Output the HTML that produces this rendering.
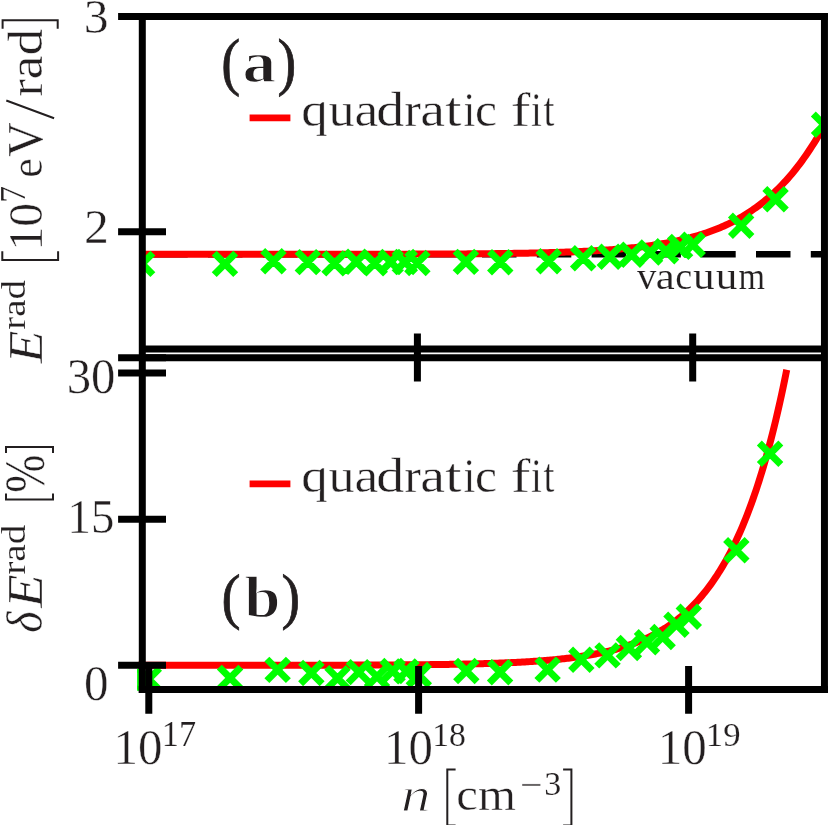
<!DOCTYPE html>
<html><head><meta charset="utf-8"><title>fig</title>
<style>
html,body{margin:0;padding:0;background:#fff;}
svg{display:block;}
text{font-family:"Liberation Serif",serif;fill:#231f20;}
.b{font-weight:bold;}
.i{font-style:italic;}
</style></head><body>
<svg width="829" height="825" viewBox="0 0 829 825">
<rect width="829" height="825" fill="#fff"/>
<defs>
<clipPath id="ca"><rect x="142.3" y="16.6" width="682.1" height="332.4"/></clipPath>
<clipPath id="cb"><rect x="137" y="357.7" width="688" height="332.3"/></clipPath>
</defs>
<!-- panel a data -->
<g clip-path="url(#ca)">
<line x1="100" y1="254.3" x2="830" y2="254.3" stroke="#000" stroke-width="6.6" stroke-dasharray="34.5 20.3" stroke-dashoffset="1.60"/>
<polyline points="138.00,254.30 140.00,254.30 142.00,254.30 144.00,254.30 146.00,254.30 148.00,254.30 150.00,254.30 152.00,254.30 154.00,254.30 156.00,254.30 158.00,254.30 160.00,254.30 162.00,254.30 164.00,254.30 166.00,254.30 168.00,254.30 170.00,254.30 172.00,254.30 174.00,254.30 176.00,254.30 178.00,254.30 180.00,254.30 182.00,254.30 184.00,254.30 186.00,254.30 188.00,254.30 190.00,254.30 192.00,254.30 194.00,254.30 196.00,254.30 198.00,254.30 200.00,254.30 202.00,254.29 204.00,254.29 206.00,254.29 208.00,254.29 210.00,254.29 212.00,254.29 214.00,254.29 216.00,254.29 218.00,254.29 220.00,254.29 222.00,254.29 224.00,254.29 226.00,254.29 228.00,254.29 230.00,254.29 232.00,254.29 234.00,254.29 236.00,254.29 238.00,254.29 240.00,254.29 242.00,254.29 244.00,254.29 246.00,254.29 248.00,254.29 250.00,254.29 252.00,254.29 254.00,254.29 256.00,254.29 258.00,254.29 260.00,254.29 262.00,254.29 264.00,254.29 266.00,254.29 268.00,254.28 270.00,254.28 272.00,254.28 274.00,254.28 276.00,254.28 278.00,254.28 280.00,254.28 282.00,254.28 284.00,254.28 286.00,254.28 288.00,254.28 290.00,254.28 292.00,254.28 294.00,254.28 296.00,254.28 298.00,254.27 300.00,254.27 302.00,254.27 304.00,254.27 306.00,254.27 308.00,254.27 310.00,254.27 312.00,254.27 314.00,254.27 316.00,254.27 318.00,254.26 320.00,254.26 322.00,254.26 324.00,254.26 326.00,254.26 328.00,254.26 330.00,254.26 332.00,254.26 334.00,254.25 336.00,254.25 338.00,254.25 340.00,254.25 342.00,254.25 344.00,254.25 346.00,254.24 348.00,254.24 350.00,254.24 352.00,254.24 354.00,254.24 356.00,254.23 358.00,254.23 360.00,254.23 362.00,254.23 364.00,254.22 366.00,254.22 368.00,254.22 370.00,254.22 372.00,254.21 374.00,254.21 376.00,254.21 378.00,254.20 380.00,254.20 382.00,254.20 384.00,254.19 386.00,254.19 388.00,254.19 390.00,254.18 392.00,254.18 394.00,254.17 396.00,254.17 398.00,254.17 400.00,254.16 402.00,254.16 404.00,254.15 406.00,254.15 408.00,254.14 410.00,254.14 412.00,254.13 414.00,254.12 416.00,254.12 418.00,254.11 420.00,254.11 422.00,254.10 424.00,254.09 426.00,254.09 428.00,254.08 430.00,254.07 432.00,254.06 434.00,254.05 436.00,254.05 438.00,254.04 440.00,254.03 442.00,254.02 444.00,254.01 446.00,254.00 448.00,253.99 450.00,253.98 452.00,253.97 454.00,253.96 456.00,253.95 458.00,253.93 460.00,253.92 462.00,253.91 464.00,253.90 466.00,253.88 468.00,253.87 470.00,253.85 472.00,253.84 474.00,253.82 476.00,253.81 478.00,253.79 480.00,253.77 482.00,253.76 484.00,253.74 486.00,253.72 488.00,253.70 490.00,253.68 492.00,253.66 494.00,253.63 496.00,253.61 498.00,253.59 500.00,253.57 502.00,253.54 504.00,253.51 506.00,253.49 508.00,253.46 510.00,253.43 512.00,253.40 514.00,253.37 516.00,253.34 518.00,253.31 520.00,253.28 522.00,253.24 524.00,253.21 526.00,253.17 528.00,253.13 530.00,253.09 532.00,253.05 534.00,253.01 536.00,252.97 538.00,252.92 540.00,252.87 542.00,252.83 544.00,252.78 546.00,252.73 548.00,252.67 550.00,252.62 552.00,252.56 554.00,252.50 556.00,252.44 558.00,252.38 560.00,252.32 562.00,252.25 564.00,252.18 566.00,252.11 568.00,252.04 570.00,251.96 572.00,251.88 574.00,251.80 576.00,251.72 578.00,251.63 580.00,251.54 582.00,251.45 584.00,251.35 586.00,251.26 588.00,251.15 590.00,251.05 592.00,250.94 594.00,250.83 596.00,250.71 598.00,250.59 600.00,250.47 602.00,250.34 604.00,250.21 606.00,250.07 608.00,249.93 610.00,249.79 612.00,249.64 614.00,249.48 616.00,249.32 618.00,249.16 620.00,248.98 622.00,248.81 624.00,248.63 626.00,248.44 628.00,248.24 630.00,248.04 632.00,247.83 634.00,247.62 636.00,247.40 638.00,247.17 640.00,246.93 642.00,246.69 644.00,246.44 646.00,246.18 648.00,245.91 650.00,245.63 652.00,245.35 654.00,245.05 656.00,244.75 658.00,244.43 660.00,244.11 662.00,243.77 664.00,243.43 666.00,243.07 668.00,242.70 670.00,242.32 672.00,241.93 674.00,241.52 676.00,241.10 678.00,240.67 680.00,240.23 682.00,239.77 684.00,239.29 686.00,238.80 688.00,238.30 690.00,237.78 692.00,237.24 694.00,236.68 696.00,236.11 698.00,235.52 700.00,234.91 702.00,234.28 704.00,233.63 706.00,232.97 708.00,232.28 710.00,231.56 712.00,230.83 714.00,230.08 716.00,229.30 718.00,228.49 720.00,227.66 722.00,226.81 724.00,225.93 726.00,225.02 728.00,224.08 730.00,223.12 732.00,222.12 734.00,221.10 736.00,220.04 738.00,218.96 740.00,217.83 742.00,216.68 744.00,215.49 746.00,214.26 748.00,213.00 750.00,211.70 752.00,210.36 754.00,208.98 756.00,207.56 758.00,206.10 760.00,204.59 762.00,203.04 764.00,201.45 766.00,199.80 768.00,198.11 770.00,196.38 772.00,194.59 774.00,192.75 776.00,190.85 778.00,188.90 780.00,186.90 782.00,184.84 784.00,182.72 786.00,180.55 788.00,178.31 790.00,176.01 792.00,173.64 794.00,171.21 796.00,168.72 798.00,166.15 800.00,163.52 802.00,160.82 804.00,158.04 806.00,155.19 808.00,152.27 810.00,149.27 812.00,146.19 814.00,143.03 816.00,139.79 818.00,136.47 820.00,133.07 822.00,129.58 824.00,126.01 824.10,125.92" fill="none" stroke="#ff0000" stroke-width="7.0" stroke-linejoin="round"/>
<path d="M131.35 253.15L152.85 274.65M131.35 274.65L152.85 253.15M214.22 253.15L235.72 274.65M214.22 274.65L235.72 253.15M262.70 250.45L284.20 271.95M262.70 271.95L284.20 250.45M297.10 251.35L318.60 272.85M297.10 272.85L318.60 251.35M323.78 252.65L345.28 274.15M323.78 274.15L345.28 252.65M345.58 251.05L367.08 272.55M345.58 272.55L367.08 251.05M364.01 252.65L385.51 274.15M364.01 274.15L385.51 252.65M379.97 251.25L401.47 272.75M379.97 272.75L401.47 251.25M394.05 251.25L415.55 272.75M394.05 272.75L415.55 251.25M406.65 252.25L428.15 273.75M406.65 273.75L428.15 252.25M455.13 251.15L476.63 272.65M455.13 272.65L476.63 251.15M489.52 251.45L511.02 272.95M489.52 272.95L511.02 251.45M538.00 250.55L559.50 272.05M538.00 272.05L559.50 250.55M572.40 247.45L593.90 268.95M572.40 268.95L593.90 247.45M599.08 246.05L620.58 267.55M599.08 267.55L620.58 246.05M620.88 243.95L642.38 265.45M620.88 265.45L642.38 243.95M639.31 241.75L660.81 263.25M639.31 263.25L660.81 241.75M655.27 240.45L676.77 261.95M655.27 261.95L676.77 240.45M669.35 236.15L690.85 257.65M669.35 257.65L690.85 236.15M681.95 234.05L703.45 255.55M681.95 255.55L703.45 234.05M730.43 215.05L751.93 236.55M730.43 236.55L751.93 215.05M764.82 188.45L786.32 209.95M764.82 209.95L786.32 188.45M813.30 113.95L834.80 135.45M813.30 135.45L834.80 113.95" stroke="#00ff00" stroke-width="7" fill="none"/>
</g>
<!-- panel b data -->
<g clip-path="url(#cb)">
<polyline points="138.00,665.30 139.50,665.30 141.00,665.30 142.50,665.30 144.00,665.29 145.50,665.29 147.00,665.29 148.50,665.29 150.00,665.29 151.50,665.29 153.00,665.29 154.50,665.29 156.00,665.29 157.50,665.29 159.00,665.29 160.50,665.29 162.00,665.29 163.50,665.29 165.00,665.29 166.50,665.29 168.00,665.29 169.50,665.29 171.00,665.29 172.50,665.29 174.00,665.29 175.50,665.29 177.00,665.29 178.50,665.29 180.00,665.29 181.50,665.29 183.00,665.29 184.50,665.29 186.00,665.29 187.50,665.29 189.00,665.29 190.50,665.29 192.00,665.29 193.50,665.29 195.00,665.29 196.50,665.29 198.00,665.29 199.50,665.29 201.00,665.29 202.50,665.29 204.00,665.29 205.50,665.29 207.00,665.28 208.50,665.28 210.00,665.28 211.50,665.28 213.00,665.28 214.50,665.28 216.00,665.28 217.50,665.28 219.00,665.28 220.50,665.28 222.00,665.28 223.50,665.28 225.00,665.28 226.50,665.28 228.00,665.28 229.50,665.28 231.00,665.28 232.50,665.28 234.00,665.28 235.50,665.28 237.00,665.27 238.50,665.27 240.00,665.27 241.50,665.27 243.00,665.27 244.50,665.27 246.00,665.27 247.50,665.27 249.00,665.27 250.50,665.27 252.00,665.27 253.50,665.27 255.00,665.27 256.50,665.27 258.00,665.26 259.50,665.26 261.00,665.26 262.50,665.26 264.00,665.26 265.50,665.26 267.00,665.26 268.50,665.26 270.00,665.26 271.50,665.25 273.00,665.25 274.50,665.25 276.00,665.25 277.50,665.25 279.00,665.25 280.50,665.25 282.00,665.25 283.50,665.24 285.00,665.24 286.50,665.24 288.00,665.24 289.50,665.24 291.00,665.24 292.50,665.24 294.00,665.23 295.50,665.23 297.00,665.23 298.50,665.23 300.00,665.23 301.50,665.22 303.00,665.22 304.50,665.22 306.00,665.22 307.50,665.22 309.00,665.21 310.50,665.21 312.00,665.21 313.50,665.21 315.00,665.21 316.50,665.20 318.00,665.20 319.50,665.20 321.00,665.20 322.50,665.19 324.00,665.19 325.50,665.19 327.00,665.18 328.50,665.18 330.00,665.18 331.50,665.17 333.00,665.17 334.50,665.17 336.00,665.16 337.50,665.16 339.00,665.16 340.50,665.15 342.00,665.15 343.50,665.15 345.00,665.14 346.50,665.14 348.00,665.13 349.50,665.13 351.00,665.12 352.50,665.12 354.00,665.12 355.50,665.11 357.00,665.11 358.50,665.10 360.00,665.10 361.50,665.09 363.00,665.09 364.50,665.08 366.00,665.07 367.50,665.07 369.00,665.06 370.50,665.06 372.00,665.05 373.50,665.04 375.00,665.04 376.50,665.03 378.00,665.02 379.50,665.02 381.00,665.01 382.50,665.00 384.00,664.99 385.50,664.98 387.00,664.98 388.50,664.97 390.00,664.96 391.50,664.95 393.00,664.94 394.50,664.93 396.00,664.92 397.50,664.91 399.00,664.90 400.50,664.89 402.00,664.88 403.50,664.87 405.00,664.86 406.50,664.85 408.00,664.84 409.50,664.83 411.00,664.81 412.50,664.80 414.00,664.79 415.50,664.77 417.00,664.76 418.50,664.75 420.00,664.73 421.50,664.72 423.00,664.70 424.50,664.69 426.00,664.67 427.50,664.65 429.00,664.64 430.50,664.62 432.00,664.60 433.50,664.59 435.00,664.57 436.50,664.55 438.00,664.53 439.50,664.51 441.00,664.49 442.50,664.47 444.00,664.44 445.50,664.42 447.00,664.40 448.50,664.38 450.00,664.35 451.50,664.33 453.00,664.30 454.50,664.28 456.00,664.25 457.50,664.22 459.00,664.20 460.50,664.17 462.00,664.14 463.50,664.11 465.00,664.08 466.50,664.04 468.00,664.01 469.50,663.98 471.00,663.94 472.50,663.91 474.00,663.87 475.50,663.84 477.00,663.80 478.50,663.76 480.00,663.72 481.50,663.68 483.00,663.64 484.50,663.59 486.00,663.55 487.50,663.50 489.00,663.46 490.50,663.41 492.00,663.36 493.50,663.31 495.00,663.26 496.50,663.21 498.00,663.15 499.50,663.10 501.00,663.04 502.50,662.98 504.00,662.92 505.50,662.86 507.00,662.80 508.50,662.73 510.00,662.66 511.50,662.60 513.00,662.53 514.50,662.45 516.00,662.38 517.50,662.30 519.00,662.23 520.50,662.15 522.00,662.07 523.50,661.98 525.00,661.90 526.50,661.81 528.00,661.72 529.50,661.62 531.00,661.53 532.50,661.43 534.00,661.33 535.50,661.23 537.00,661.12 538.50,661.01 540.00,660.90 541.50,660.79 543.00,660.67 544.50,660.55 546.00,660.43 547.50,660.30 549.00,660.17 550.50,660.04 552.00,659.90 553.50,659.77 555.00,659.62 556.50,659.47 558.00,659.32 559.50,659.17 561.00,659.01 562.50,658.85 564.00,658.68 565.50,658.51 567.00,658.33 568.50,658.15 570.00,657.97 571.50,657.78 573.00,657.58 574.50,657.38 576.00,657.18 577.50,656.97 579.00,656.75 580.50,656.53 582.00,656.30 583.50,656.07 585.00,655.83 586.50,655.58 588.00,655.33 589.50,655.07 591.00,654.81 592.50,654.54 594.00,654.26 595.50,653.97 597.00,653.68 598.50,653.38 600.00,653.07 601.50,652.75 603.00,652.42 604.50,652.09 606.00,651.75 607.50,651.40 609.00,651.04 610.50,650.67 612.00,650.29 613.50,649.90 615.00,649.50 616.50,649.09 618.00,648.67 619.50,648.24 621.00,647.80 622.50,647.34 624.00,646.88 625.50,646.40 627.00,645.91 628.50,645.41 630.00,644.89 631.50,644.36 633.00,643.82 634.50,643.27 636.00,642.69 637.50,642.11 639.00,641.51 640.50,640.89 642.00,640.26 643.50,639.61 645.00,638.94 646.50,638.26 648.00,637.56 649.50,636.84 651.00,636.10 652.50,635.35 654.00,634.57 655.50,633.77 657.00,632.96 658.50,632.12 660.00,631.26 661.50,630.38 663.00,629.47 664.50,628.54 666.00,627.59 667.50,626.61 669.00,625.61 670.50,624.58 672.00,623.53 673.50,622.45 675.00,621.34 676.50,620.20 678.00,619.03 679.50,617.83 681.00,616.60 682.50,615.34 684.00,614.04 685.50,612.71 687.00,611.35 688.50,609.95 690.00,608.52 691.50,607.05 693.00,605.54 694.50,603.99 696.00,602.40 697.50,600.77 699.00,599.10 700.50,597.38 702.00,595.62 703.50,593.81 705.00,591.96 706.50,590.06 708.00,588.11 709.50,586.11 711.00,584.06 712.50,581.95 714.00,579.79 715.50,577.58 717.00,575.31 718.50,572.97 720.00,570.58 721.50,568.13 723.00,565.61 724.50,563.02 726.00,560.37 727.50,557.65 729.00,554.87 730.50,552.00 732.00,549.07 733.50,546.06 735.00,542.96 736.50,539.79 738.00,536.54 739.50,533.21 741.00,529.78 742.50,526.27 744.00,522.67 745.50,518.97 747.00,515.18 748.50,511.29 750.00,507.30 751.50,503.20 753.00,499.00 754.50,494.69 756.00,490.27 757.50,485.74 759.00,481.08 760.50,476.31 762.00,471.41 763.50,466.39 765.00,461.23 766.50,455.94 768.00,450.52 769.50,444.95 771.00,439.24 772.50,433.39 774.00,427.38 775.50,421.21 777.00,414.88 778.50,408.39 780.00,401.74 781.50,394.91 783.00,387.90 784.50,380.71 786.00,373.34 786.72,369.72" fill="none" stroke="#ff0000" stroke-width="7.0" stroke-linejoin="round"/>
<path d="M138.05 668.35L159.55 689.85M138.05 689.85L159.55 668.35M219.33 667.15L240.83 688.65M219.33 688.65L240.83 667.15M266.87 659.15L288.37 680.65M266.87 680.65L288.37 659.15M300.61 662.25L322.11 683.75M300.61 683.75L322.11 662.25M326.77 667.35L348.27 688.85M326.77 688.85L348.27 667.35M348.15 661.35L369.65 682.85M348.15 682.85L369.65 661.35M366.23 665.85L387.73 687.35M366.23 687.35L387.73 665.85M381.88 660.25L403.38 681.75M381.88 681.75L403.38 660.25M395.70 660.65L417.20 682.15M395.70 682.15L417.20 660.65M408.05 664.25L429.55 685.75M408.05 685.75L429.55 664.25M455.59 660.25L477.09 681.75M455.59 681.75L477.09 660.25M489.33 661.45L510.83 682.95M489.33 682.95L510.83 661.45M536.87 658.85L558.37 680.35M536.87 680.35L558.37 658.85M570.61 648.95L592.11 670.45M570.61 670.45L592.11 648.95M596.77 644.65L618.27 666.15M596.77 666.15L618.27 644.65M618.15 637.25L639.65 658.75M618.15 658.75L639.65 637.25M636.23 631.55L657.73 653.05M636.23 653.05L657.73 631.55M651.88 626.25L673.38 647.75M651.88 647.75L673.38 626.25M665.70 614.05L687.20 635.55M665.70 635.55L687.20 614.05M678.05 605.95L699.55 627.45M678.05 627.45L699.55 605.95M725.59 539.55L747.09 561.05M725.59 561.05L747.09 539.55M759.33 443.05L780.83 464.55M759.33 464.55L780.83 443.05" stroke="#00ff00" stroke-width="7" fill="none"/>
</g>
<rect x="137.1" y="668.8" width="2.2" height="22" fill="#00ff00"/>
<!-- frames -->
<g fill="none" stroke="#000" stroke-width="7">
<path d="M142.3 13.05V693.1M824.45 13.05V693.1"/>
<path d="M138.8 16.55H827.9M142 349.05H825M142 357.7H825M138.8 689.6H827.9"/>
</g>
<g stroke="#000" stroke-width="7" fill="none">
<!-- y ticks -->
<path d="M118.1 16.6H166M118.1 231.7H166M118.1 357.7H166M118.1 373H166M118.1 519.3H166M118.1 665.3H166"/>
<!-- top ticks of b -->
<path d="M417.4 333.6V381.5M692.7 333.6V381.5"/>
<!-- bottom ticks -->
<path d="M148.8 666V713.7M418.6 666V713.7M688.6 666V713.7"/>
</g>
<!-- legend lines -->
<path d="M249.6 117.8H290.4M249.6 483.9H290.4" stroke="#ff0000" stroke-width="6.8" fill="none"/>
<!-- TEXT -->
<g id="txt" opacity="0.999" stroke="#fff" stroke-width="0.4">
<text transform="translate(83.67 33.01) scale(1.0048 1)" font-size="49.40">3</text>
<text transform="translate(84.06 242.80) scale(1.0325 1)" font-size="48.18">2</text>
<text transform="translate(66.71 393.10) scale(0.9792 1)" font-size="49.78">30</text>
<text transform="translate(67.52 533.31) scale(0.9513 1)" font-size="49.25">15</text>
<text transform="translate(83.94 700.40) scale(0.9824 1)" font-size="49.93">0</text>
<text transform="translate(113.54 763.90) scale(0.9827 1)" font-size="49.78">10</text>
<text stroke-width="0.15" transform="translate(161.78 746.30) scale(0.9814 1)" font-size="35.00">17</text>
<text transform="translate(384.05 763.90) scale(0.9804 1)" font-size="49.78">10</text>
<text stroke-width="0.15" transform="translate(432.13 745.96) scale(0.9852 1)" font-size="34.22">18</text>
<text transform="translate(657.83 763.90) scale(0.9849 1)" font-size="49.78">10</text>
<text stroke-width="0.15" transform="translate(705.85 745.96) scale(1.0077 1)" font-size="34.48">19</text>
<text transform="translate(301.24 125.60) scale(1.1332 1.0200)" font-size="46.80">q</text>
<text transform="translate(328.42 125.60) scale(1.1138 1.0200)" font-size="46.80">u</text>
<text transform="translate(354.43 125.60) scale(1.1414 1.0200)" font-size="46.80">a</text>
<text transform="translate(376.25 125.60) scale(1.1928 1.0200)" font-size="46.80">d</text>
<text transform="translate(404.20 125.60) scale(1.0649 1.0200)" font-size="46.80">r</text>
<text transform="translate(420.25 125.60) scale(1.1901 1.0200)" font-size="46.80">a</text>
<text transform="translate(445.32 125.60) scale(1.2492 1.0200)" font-size="46.80">t</text>
<text transform="translate(463.55 125.60) scale(0.9081 1.0200)" font-size="46.80">i</text>
<text transform="translate(475.12 125.60) scale(1.0598 1.0200)" font-size="46.80">c</text>
<text transform="translate(510.83 125.60) scale(1.2610 1.0200)" font-size="46.80">f</text>
<text transform="translate(531.12 125.60) scale(0.8369 1.0200)" font-size="46.80">i</text>
<text transform="translate(543.41 125.60) scale(0.8383 1.0200)" font-size="46.80">t</text>
<text transform="translate(301.24 492.20) scale(1.1332 1.0200)" font-size="46.80">q</text>
<text transform="translate(328.42 492.20) scale(1.1138 1.0200)" font-size="46.80">u</text>
<text transform="translate(354.43 492.20) scale(1.1414 1.0200)" font-size="46.80">a</text>
<text transform="translate(376.25 492.20) scale(1.1928 1.0200)" font-size="46.80">d</text>
<text transform="translate(404.20 492.20) scale(1.0649 1.0200)" font-size="46.80">r</text>
<text transform="translate(420.25 492.20) scale(1.1901 1.0200)" font-size="46.80">a</text>
<text transform="translate(445.32 492.20) scale(1.2492 1.0200)" font-size="46.80">t</text>
<text transform="translate(463.55 492.20) scale(0.9081 1.0200)" font-size="46.80">i</text>
<text transform="translate(475.12 492.20) scale(1.0598 1.0200)" font-size="46.80">c</text>
<text transform="translate(510.83 492.20) scale(1.2610 1.0200)" font-size="46.80">f</text>
<text transform="translate(531.12 492.20) scale(0.8369 1.0200)" font-size="46.80">i</text>
<text transform="translate(543.41 492.20) scale(0.8383 1.0200)" font-size="46.80">t</text>
<text stroke-width="0.15" transform="translate(637.10 289.20) scale(1.0052 1.0000)" font-size="38.60">v</text>
<text stroke-width="0.15" transform="translate(655.80 289.20) scale(1.1084 1.0000)" font-size="38.60">a</text>
<text stroke-width="0.15" transform="translate(675.27 289.20) scale(0.9879 1.0000)" font-size="38.60">c</text>
<text stroke-width="0.15" transform="translate(692.95 289.20) scale(1.1190 1.0000)" font-size="38.60">u</text>
<text stroke-width="0.15" transform="translate(715.75 289.20) scale(1.1190 1.0000)" font-size="38.60">u</text>
<text stroke-width="0.15" transform="translate(738.52 289.20) scale(0.8833 1.0000)" font-size="38.60">m</text>
<text stroke="#231f20" stroke-width="0.8" transform="translate(221.34 82.78) scale(0.9110 1)" font-size="62.42">(</text>
<text class="b" stroke-width="1.3" transform="translate(242.48 82.40) scale(1.1248 1)" font-size="59.79">a</text>
<text stroke="#231f20" stroke-width="0.8" transform="translate(277.42 82.78) scale(0.8996 1)" font-size="62.42">)</text>
<text stroke="#231f20" stroke-width="0.8" transform="translate(221.52 616.55) scale(0.9222 1)" font-size="62.09">(</text>
<text class="b" stroke-width="1.3" transform="translate(244.15 616.51) scale(1.0962 1)" font-size="59.43">b</text>
<text stroke="#231f20" stroke-width="0.8" transform="translate(281.43 616.55) scale(0.8982 1)" font-size="62.09">)</text>
<text class="i" stroke-width="1.0" transform="translate(400.92 810.70) scale(1.2223 1)" font-size="48.51">n</text>
<text transform="translate(456.35 809.84) scale(1.0648 1)" font-size="45.83">cm</text>
<text transform="translate(520.00 797.50) scale(1.0000 1)" font-size="40.00">−</text>
<text stroke-width="0.15" transform="translate(544.37 795.06) scale(1.0117 1)" font-size="33.58">3</text>
<text class="i" transform="rotate(-90) translate(-363.27 41.90) scale(1.0826 1)" font-size="49.31">E</text>
<text stroke-width="0.15" transform="rotate(-90) translate(-329.78 25.16) scale(1.1516 1)" font-size="33.76">rad</text>
<text transform="rotate(-90) translate(-250.55 41.91) scale(0.9719 1)" font-size="49.04">10</text>
<text stroke-width="0.15" transform="rotate(-90) translate(-202.68 24.60) scale(0.9481 1)" font-size="35.42">7</text>
<text transform="rotate(-90) translate(-177.65 41.94) scale(0.9553 1)" font-size="45.83">e</text>
<text transform="rotate(-90) translate(-156.78 41.64) scale(0.9402 1)" font-size="50.60">V</text>
<text transform="rotate(-90) translate(-96.87 41.72) scale(1.1140 1)" font-size="47.80">rad</text>
<text class="i" transform="rotate(-90) translate(-632.66 41.90) scale(0.9041 1)" font-size="50.14">δ</text>
<text class="i" transform="rotate(-90) translate(-607.75 42.00) scale(1.0826 1)" font-size="50.53">E</text>
<text stroke-width="0.15" transform="rotate(-90) translate(-574.79 25.16) scale(1.1490 1)" font-size="34.18">rad</text>
<text transform="rotate(-90) translate(-492.80 43.65) scale(0.8037 1)" font-size="56.76">%</text>
<path d="M6.3 100.5L54.1 118.2M455.6 769.4H447.3V825.5H455.6M563.1 769.4H571.4V825.5H563.1M2.3 251.3V259.9H58.1V251.3M2.6 28.7V20.3H57.7V28.7M6.0 493.6V499.6H53.0V493.6M6.0 453.0V447.0H53.0V453.0" fill="none" stroke="#231f20" stroke-width="2"/>
</g>
</svg>
</body></html>
